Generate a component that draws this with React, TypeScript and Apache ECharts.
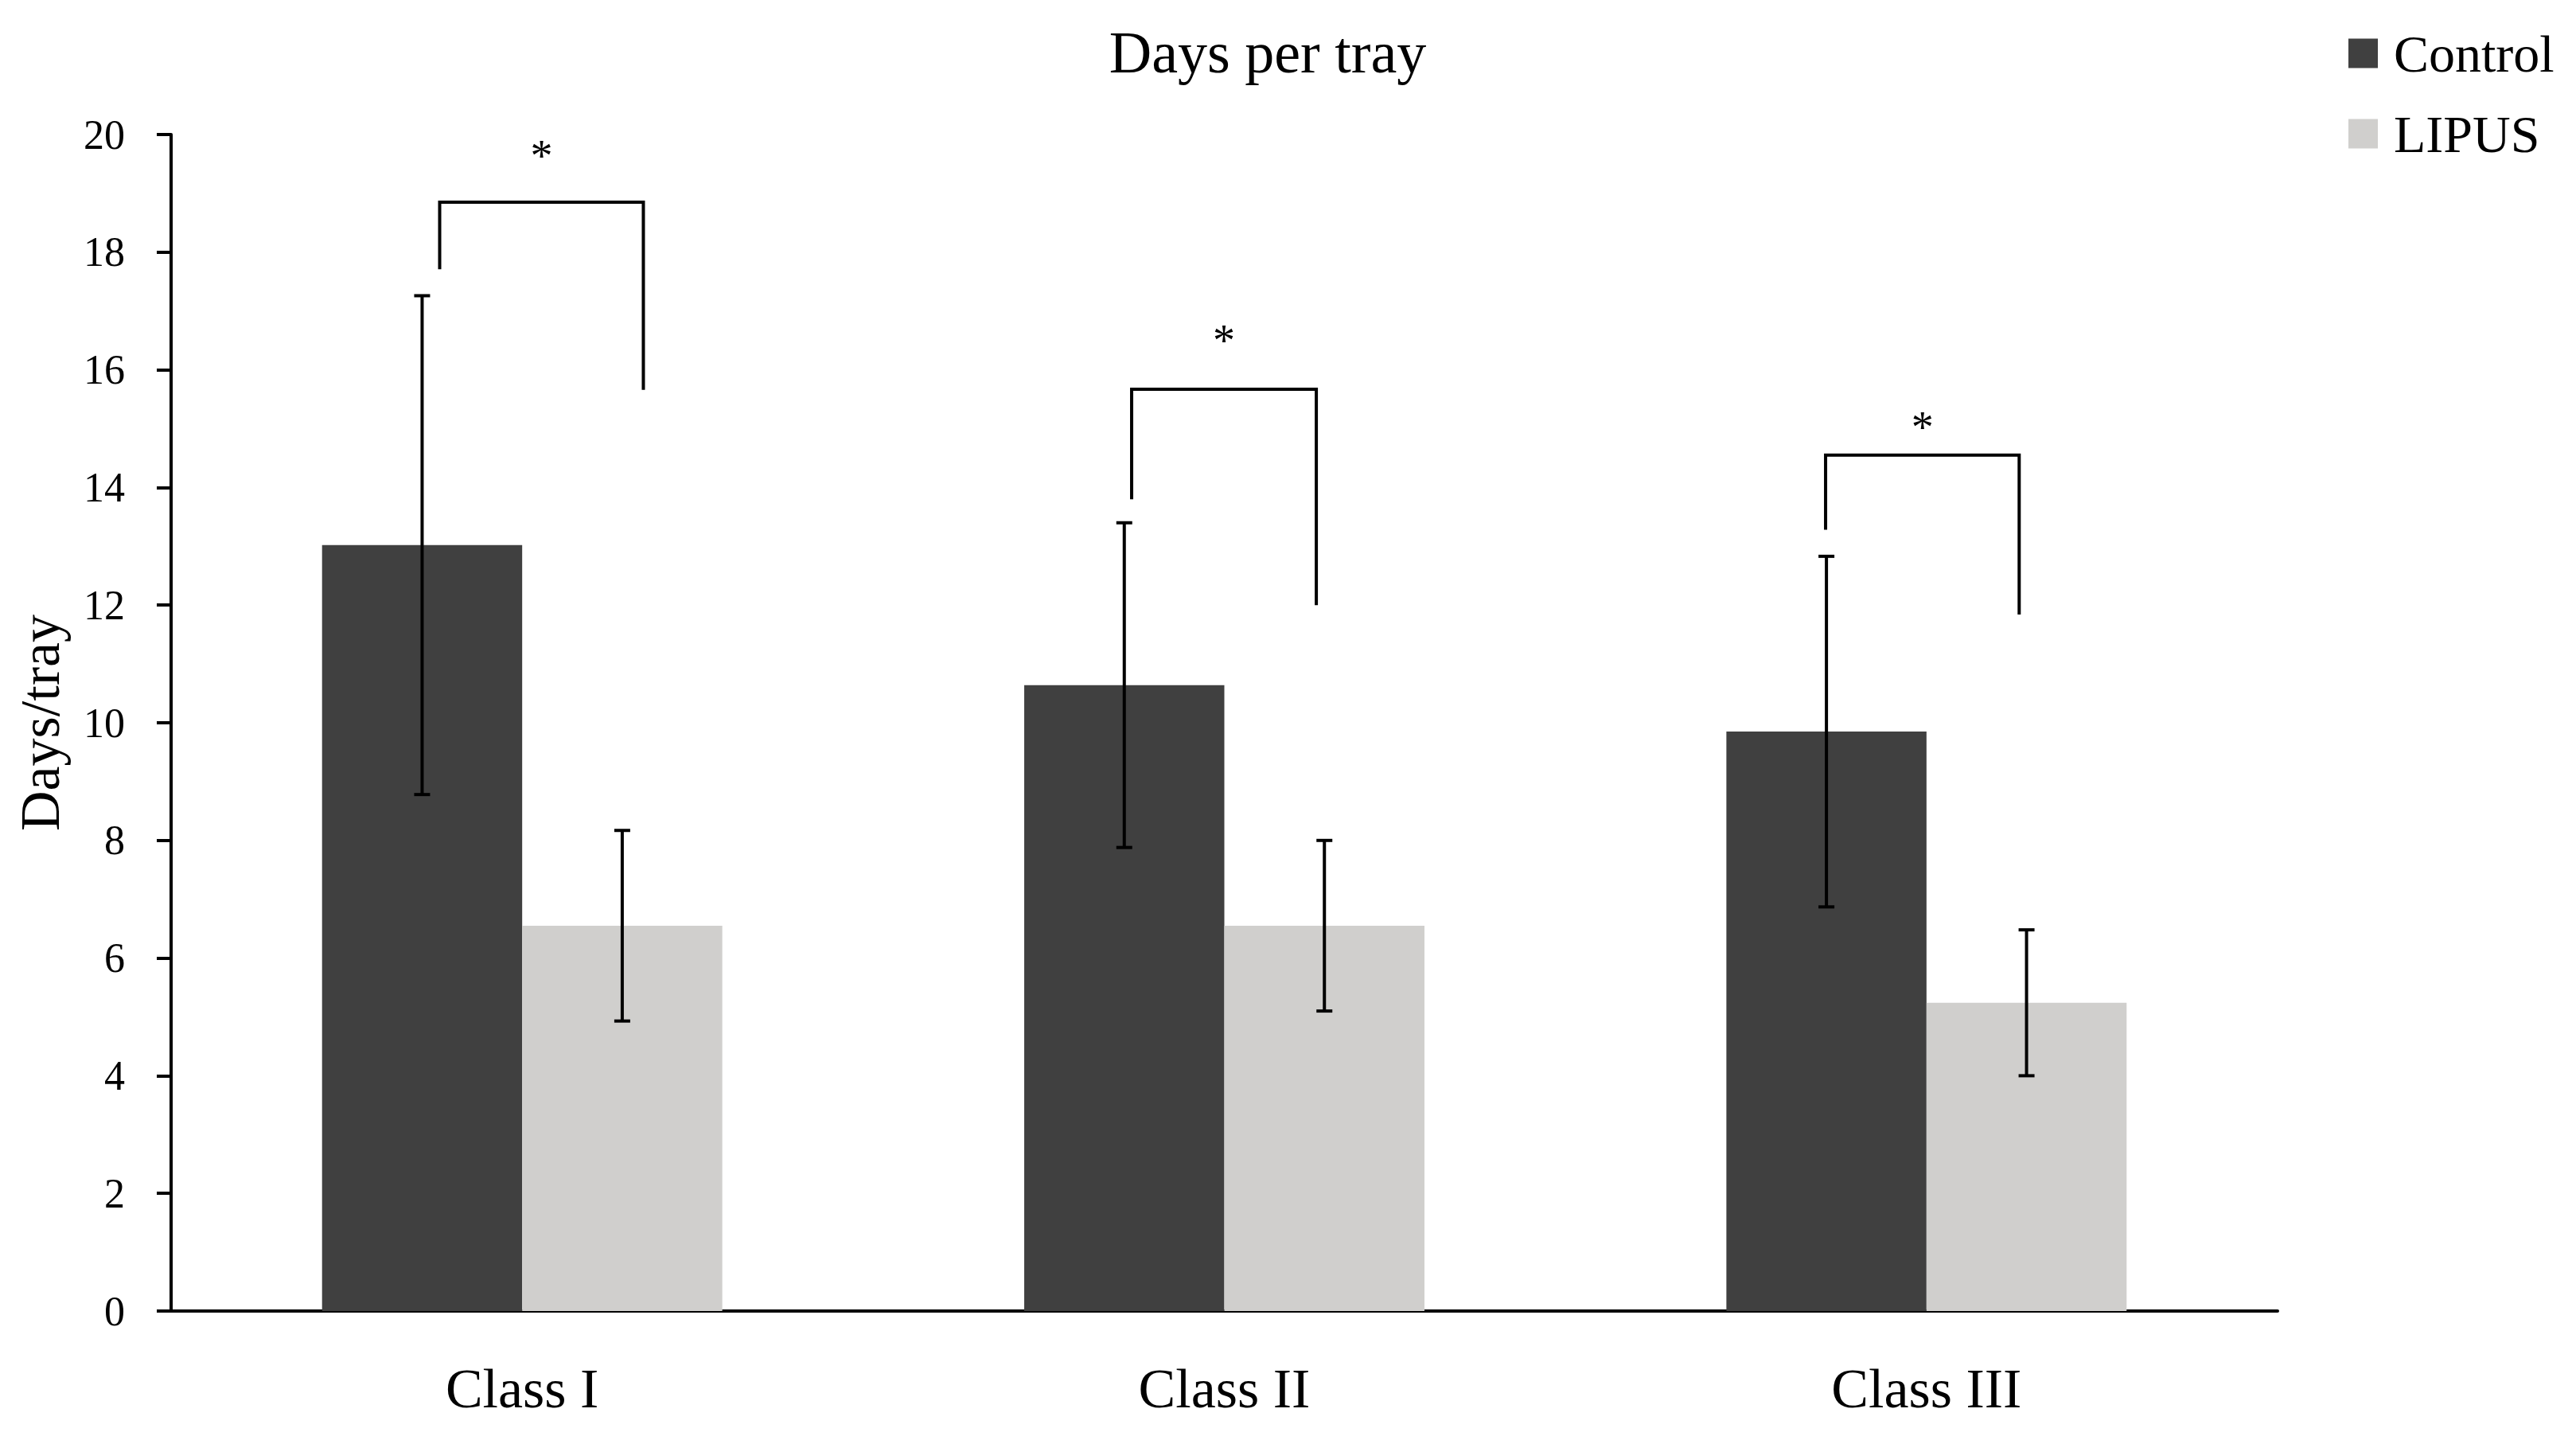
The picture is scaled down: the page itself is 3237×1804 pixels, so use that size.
import React, { useEffect, useRef } from "react";
import * as echarts from "echarts";

// ---- data ----
const categories = ["Class I", "Class II", "Class III"];
const seriesNames = ["Control", "LIPUS"];
const controlMeans = [13.02, 10.64, 9.85];
const controlSD = [4.24, 2.76, 2.98];
const lipusMeans = [6.55, 6.55, 5.24];
const lipusSD = [1.62, 1.45, 1.24];
const yTicks = { min: 0, max: 20, interval: 2 };

// significance brackets (y values in data units)
const bracketTop = [18.85, 15.67, 14.55];
const bracketLeftEnd = [17.71, 13.8, 13.28];
const bracketRightEnd = [15.66, 12.0, 11.84];
const starY = [19.73, 16.6, 15.12];
const starLabels = ["*", "*", "*"];

// ---- layout / style (not data) ----
const bracketLeftOffset = [-0.1175, -0.132, -0.1437];
const bracketRightOffset = [0.1726, 0.131, 0.132];
const FONT = "'Liberation Serif', 'Times New Roman', serif";
const CONTROL_COLOR = "#404040";
const LIPUS_COLOR = "#d0cfcd";
const BAR_CATEGORY_GAP = 0.43;
const BAR_OFFSET = (1 - BAR_CATEGORY_GAP) / 4; // centre of each bar as fraction of band

function errorRender(offsetFrac: number) {
  return (params: any, api: any) => {
    const cat = api.value(0);
    const lo = api.value(1);
    const hi = api.value(2);
    const band = api.size([1, 0])[0];
    const cx = api.coord([cat, 0])[0] + offsetFrac * band;
    const yLo = api.coord([cat, lo])[1];
    const yHi = api.coord([cat, hi])[1];
    const cap = 10;
    const style = { stroke: "#000", lineWidth: 4, fill: null };
    return {
      type: "group",
      children: [
        { type: "line", shape: { x1: cx, y1: yHi, x2: cx, y2: yLo }, style },
        { type: "line", shape: { x1: cx - cap, y1: yHi, x2: cx + cap, y2: yHi }, style },
        { type: "line", shape: { x1: cx - cap, y1: yLo, x2: cx + cap, y2: yLo }, style },
      ],
    };
  };
}

function bracketRender(params: any, api: any) {
  const i = params.dataIndex;
  const cat = api.value(0);
  const top = api.value(1);
  const lEnd = api.value(2);
  const rEnd = api.value(3);
  const sY = api.value(4);
  const band = api.size([1, 0])[0];
  const c = api.coord([cat, 0])[0];
  const xl = c + bracketLeftOffset[i] * band;
  const xr = c + bracketRightOffset[i] * band;
  const yTop = api.coord([cat, top])[1];
  const yL = api.coord([cat, lEnd])[1];
  const yR = api.coord([cat, rEnd])[1];
  const ys = api.coord([cat, sY])[1];
  const fs = 56;
  return {
    type: "group",
    children: [
      {
        type: "polyline",
        shape: { points: [[xl, yL], [xl, yTop], [xr, yTop], [xr, yR]] },
        style: { stroke: "#000", lineWidth: 4, fill: null },
      },
      {
        type: "text",
        x: (xl + xr) / 2,
        y: ys + 0.13 * fs,
        style: {
          text: starLabels[i],
          fill: "#000",
          font: `${fs}px ${FONT}`,
          align: "center",
          verticalAlign: "middle",
        },
      },
    ],
  };
}

export default function App() {
  const ref = useRef<HTMLDivElement>(null);

  useEffect(() => {
    document.body.style.margin = "0";
    document.body.style.overflow = "hidden";
    if (!ref.current) return;
    const chart = echarts.init(ref.current, undefined, { renderer: "svg" });

    const controlErr = categories.map((_, i) => [i, controlMeans[i] - controlSD[i], controlMeans[i] + controlSD[i]]);
    const lipusErr = categories.map((_, i) => [i, lipusMeans[i] - lipusSD[i], lipusMeans[i] + lipusSD[i]]);
    const brackets = categories.map((_, i) => [i, bracketTop[i], bracketLeftEnd[i], bracketRightEnd[i], starY[i]]);

    chart.setOption({
      animation: false,
      backgroundColor: "#ffffff",
      graphic: [
        {
          type: "text",
          x: 1593,
          y: 29,
          style: {
            text: "Days per tray",
            fill: "#000",
            font: `74px ${FONT}`,
            align: "center",
            verticalAlign: "top",
          },
        },
      ],
      legend: {
        data: seriesNames,
        orient: "vertical",
        left: 2946,
        top: 29,
        itemWidth: 37,
        itemHeight: 37,
        itemGap: 35,
        icon: "rect",
        textStyle: {
          fontFamily: FONT,
          fontSize: 66,
          color: "#000",
          padding: [0, 0, 0, 15],
        },
      },
      grid: { left: 215, right: 375, top: 169, bottom: 157, containLabel: false },
      xAxis: {
        type: "category",
        data: categories,
        axisLine: { show: true, lineStyle: { color: "#000", width: 4 } },
        axisTick: { show: false },
        axisLabel: { fontFamily: FONT, fontSize: 70, color: "#000", margin: 62 },
        splitLine: { show: false },
      },
      yAxis: {
        type: "value",
        min: yTicks.min,
        max: yTicks.max,
        interval: yTicks.interval,
        name: "Days/tray",
        nameLocation: "middle",
        nameGap: 130,
        nameTextStyle: { fontFamily: FONT, fontSize: 70, color: "#000" },
        axisLine: { show: true, lineStyle: { color: "#000", width: 4 } },
        axisTick: { show: true, length: 18, lineStyle: { color: "#000", width: 4 } },
        axisLabel: { fontFamily: FONT, fontSize: 52, color: "#000", margin: 58 },
        splitLine: { show: false },
      },
      series: [
        {
          name: seriesNames[0],
          type: "bar",
          data: controlMeans,
          itemStyle: { color: CONTROL_COLOR },
          barGap: "0%",
          barCategoryGap: `${BAR_CATEGORY_GAP * 100}%`,
        },
        {
          name: seriesNames[1],
          type: "bar",
          data: lipusMeans,
          itemStyle: { color: LIPUS_COLOR },
          barGap: "0%",
          barCategoryGap: `${BAR_CATEGORY_GAP * 100}%`,
        },
        {
          type: "custom",
          renderItem: errorRender(-BAR_OFFSET),
          data: controlErr,
          encode: { x: 0, y: [1, 2] },
          z: 5,
          silent: true,
        },
        {
          type: "custom",
          renderItem: errorRender(BAR_OFFSET),
          data: lipusErr,
          encode: { x: 0, y: [1, 2] },
          z: 5,
          silent: true,
        },
        {
          type: "custom",
          renderItem: bracketRender,
          data: brackets,
          encode: { x: 0, y: [1, 2, 3, 4] },
          z: 5,
          silent: true,
        },
      ],
    });

    return () => chart.dispose();
  }, []);

  return <div ref={ref} style={{ width: "3237px", height: "1804px" }} />;
}
